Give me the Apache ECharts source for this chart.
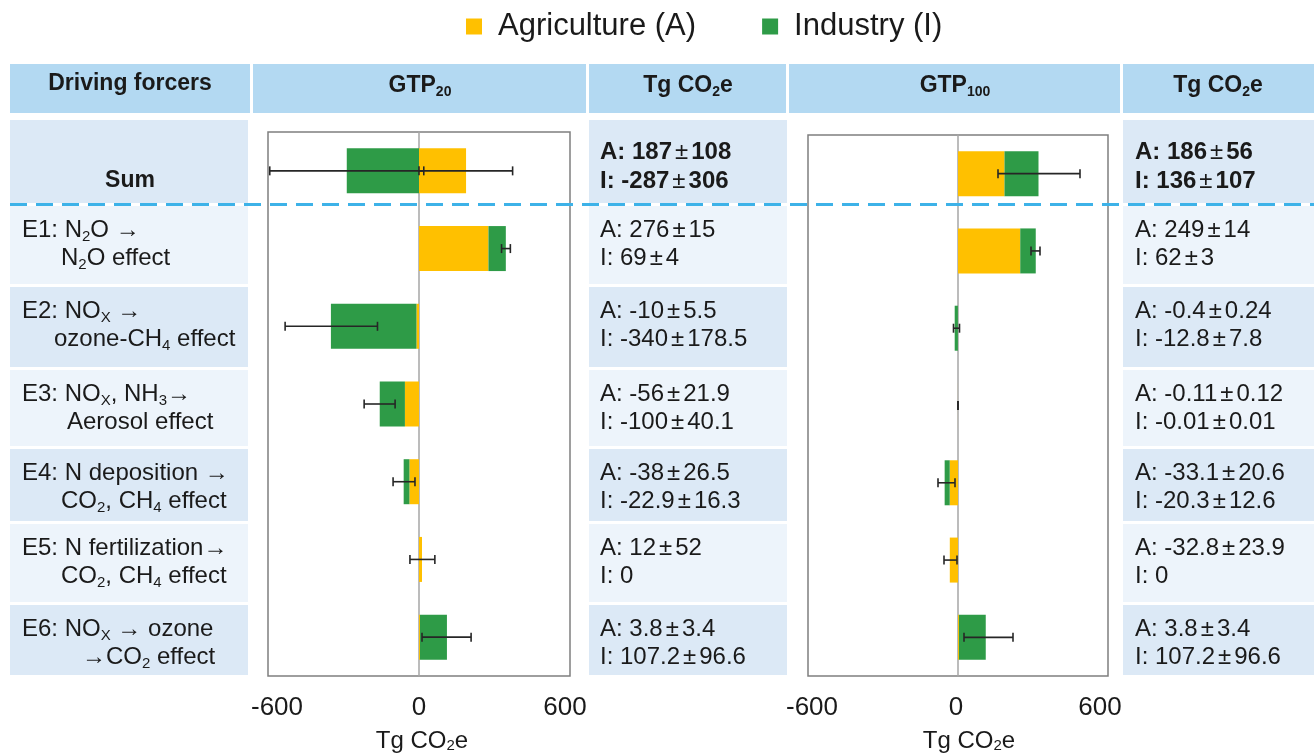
<!DOCTYPE html>
<html>
<head>
<meta charset="utf-8">
<script src="https://cdn.jsdelivr.net/npm/echarts@6/dist/echarts.min.js"></script>
<style>
  html, body { margin: 0; padding: 0; background: #fff; }
  #chart { width: 1314px; height: 754px; }
</style>
</head>
<body>
<div id="chart"></div>
<script>
// Rows of the table, top to bottom
const categories = ['Sum', 'E1', 'E2', 'E3', 'E4', 'E5', 'E6'];

// GTP20, Tg CO2e (null error = no uncertainty given)
const gtp20Agri    = [187, 276, -10, -56, -38, 12, 3.8];
const gtp20AgriErr = [108, 15, 5.5, 21.9, 26.5, 52, 3.4];
const gtp20Ind     = [-287, 69, -340, -100, -22.9, 0, 107.2];
const gtp20IndErr  = [306, 4, 178.5, 40.1, 16.3, null, 96.6];

// GTP100, Tg CO2e
const gtp100Agri    = [186, 249, -0.4, -0.11, -33.1, -32.8, 3.8];
const gtp100AgriErr = [56, 14, 0.24, 0.12, 20.6, 23.9, 3.4];
const gtp100Ind     = [136, 62, -12.8, -0.01, -20.3, 0, 107.2];
const gtp100IndErr  = [107, 3, 7.8, 0.01, 12.6, null, 96.6];

// Error-bar extents on the value axis: [row index, low, high]
const gtp20Whiskers  = [[0, -593, 19], [0, 0, 372], [1, 328, 363], [2, -532, -165], [3, -218, -95], [4, -103, -16], [5, -36, 63], [6, 12, 207]];
const gtp100Whiskers = [[0, 160, 488], [1, 292, 328], [2, -18, 6], [3, -0.24, 0.2], [4, -80, -12], [5, -56, -4], [6, 24, 220]];

// Axis ticks
const axisTicks = [-600, 0, 600];

// Driving-force descriptions ({s|..} = subscript)
const driverLines = [
  ['E1: N{s|2}O →', 'N{s|2}O effect'],
  ['E2: NO{s|X} →', 'ozone-CH{s|4} effect'],
  ['E3: NO{s|X}, NH{s|3}→', 'Aerosol effect'],
  ['E4: N deposition →', 'CO{s|2}, CH{s|4} effect'],
  ['E5: N fertilization→', 'CO{s|2}, CH{s|4} effect'],
  ['E6: NO{s|X} → ozone', '→CO{s|2} effect']
];

const FONT = '"Liberation Sans", Arial, sans-serif';
const INK = '#1a1a1a';
const YELLOW = '#FFC000';
const GREEN = '#2E9B47';
const HEAD_BG = '#b3d9f2';
const ROW_DARK = '#dce9f6';
const ROW_LIGHT = '#edf4fb';

// table geometry
const headY = [64, 113];
const headCols = [[10, 250], [253, 586], [589, 786], [789, 1120], [1123, 1314]];
const textCols = [[10, 248], [589, 787], [1123, 1314]];
const rowTops = [120, 206, 287, 370, 449, 524, 605];
const rowBottoms = [203, 284, 367, 446, 521, 602, 675];
const driverLine2X = [61, 54, 67, 61, 61, 82];

const BODY = 24;

function richSet(size, weight) {
  return {
    s: { fontFamily: FONT, fontSize: Math.round(size * 0.62), fontWeight: weight, fill: INK, verticalAlign: 'bottom' },
    pm: { fontFamily: FONT, fontSize: size, fontWeight: 'normal', fill: INK, padding: [0, 3, 0, 3] }
  };
}

function textEl(x, y, text, size, weight, align) {
  return {
    type: 'text', x: x, y: y, z: 20, silent: true,
    style: {
      text: text, fontFamily: FONT, fontSize: size, fontWeight: weight, fill: INK,
      align: align || 'left', verticalAlign: 'middle', lineHeight: size + 4,
      rich: richSet(size, weight)
    }
  };
}

function rectEl(x1, y1, x2, y2, color) {
  return { type: 'rect', z: 1, silent: true, shape: { x: x1, y: y1, width: x2 - x1, height: y2 - y1 }, style: { fill: color } };
}

function valueText(prefix, v, e) {
  return e === null ? prefix + v : prefix + v + '{pm|±}' + e;
}

const elements = [];
// header band
headCols.forEach(function (c) { elements.push(rectEl(c[0], headY[0], c[1], headY[1], HEAD_BG)); });
const headMidY = 86;
elements.push(textEl(130, headMidY - 2, 'Driving forcers', BODY - 1, 'bold', 'center'));
elements.push(textEl(420, headMidY, 'GTP{s|20}', BODY - 1, 'bold', 'center'));
elements.push(textEl(688, headMidY, 'Tg CO{s|2}e', BODY - 1, 'bold', 'center'));
elements.push(textEl(955, headMidY, 'GTP{s|100}', BODY - 1, 'bold', 'center'));
elements.push(textEl(1218, headMidY, 'Tg CO{s|2}e', BODY - 1, 'bold', 'center'));

// body cells
categories.forEach(function (cat, i) {
  const color = (i % 2 === 0) ? ROW_DARK : ROW_LIGHT;
  textCols.forEach(function (c) { elements.push(rectEl(c[0], rowTops[i], c[1], rowBottoms[i], color)); });
  const isSum = i === 0;
  const w = isSum ? 'bold' : 'normal';
  const y1 = isSum ? rowTops[i] + 32 : rowTops[i] + 24;
  const y2 = isSum ? rowTops[i] + 61 : rowTops[i] + 52;
  if (isSum) {
    elements.push(textEl(130, y2, 'Sum', BODY - 1, 'bold', 'center'));
  } else {
    elements.push(textEl(22, y1, driverLines[i - 1][0], BODY, 'normal'));
    elements.push(textEl(driverLine2X[i - 1], y2, driverLines[i - 1][1], BODY, 'normal'));
  }
  elements.push(textEl(600, y1, valueText('A: ', gtp20Agri[i], gtp20AgriErr[i]), BODY, w));
  elements.push(textEl(600, y2, valueText('I: ', gtp20Ind[i], gtp20IndErr[i]), BODY, w));
  elements.push(textEl(1135, y1, valueText('A: ', gtp100Agri[i], gtp100AgriErr[i]), BODY, w));
  elements.push(textEl(1135, y2, valueText('I: ', gtp100Ind[i], gtp100IndErr[i]), BODY, w));
});

// dashed separator under the Sum row
elements.push({
  type: 'line', z: 100, silent: true,
  shape: { x1: 10, y1: 204.5, x2: 1314, y2: 204.5 },
  style: { stroke: '#3db2e8', lineWidth: 3, lineDash: [17, 9] }
});

// error bar with end caps
function whisker(params, api) {
  const row = api.value(0);
  const p1 = api.coord([api.value(1), row]);
  const p2 = api.coord([api.value(2), row]);
  const c = 4.5;
  const st = { stroke: '#262626', lineWidth: 1.6 };
  return {
    type: 'group',
    children: [
      { type: 'line', shape: { x1: p1[0], y1: p1[1], x2: p2[0], y2: p2[1] }, style: st },
      { type: 'line', shape: { x1: p1[0], y1: p1[1] - c, x2: p1[0], y2: p1[1] + c }, style: st },
      { type: 'line', shape: { x1: p2[0], y1: p2[1] - c, x2: p2[0], y2: p2[1] + c }, style: st }
    ]
  };
}

// per-axis nudges of the tick labels and the axis title (px)
const labelNudge = [
  { neg: 18, zero: 0, pos: -10, name: 6 },
  { neg: 8, zero: -4, pos: -16, name: 22 }
];

function makeXAxis(i) {
  const nd = labelNudge[i];
  const lab = { fontFamily: FONT, fontSize: 26, color: INK };
  return {
    gridIndex: i, type: 'value', min: axisTicks[0], max: axisTicks[axisTicks.length - 1],
    interval: axisTicks[1] - axisTicks[0],
    axisLine: { show: false }, axisTick: { show: false }, splitLine: { show: false },
    axisLabel: {
      margin: 19,
      formatter: function (v) { return v < 0 ? '{neg|' + v + '}' : (v > 0 ? '{pos|' + v + '}' : '{zero|' + v + '}'); },
      rich: {
        neg: Object.assign({ padding: nd.neg >= 0 ? [0, 0, 0, nd.neg] : [0, -nd.neg, 0, 0] }, lab),
        zero: Object.assign({ padding: nd.zero >= 0 ? [0, 0, 0, nd.zero] : [0, -nd.zero, 0, 0] }, lab),
        pos: Object.assign({ padding: nd.pos >= 0 ? [0, 0, 0, nd.pos] : [0, -nd.pos, 0, 0] }, lab)
      }
    },
    name: '{n|Tg CO}{s|2}{n|e}', nameLocation: 'middle', nameGap: 53,
    nameTextStyle: {
      padding: [0, 0, 0, nd.name],
      rich: {
        n: { fontFamily: FONT, fontSize: 24, color: INK },
        s: { fontFamily: FONT, fontSize: 15, color: INK, verticalAlign: 'bottom' }
      }
    }
  };
}

function makeYAxis(i) {
  return {
    gridIndex: i, type: 'category', data: categories, inverse: true,
    axisLabel: { show: false }, axisTick: { show: false },
    axisLine: { show: true, onZero: true, lineStyle: { color: '#a6a6a6', width: 1.5 } }
  };
}

const gridBase = {
  show: true, backgroundColor: '#fff', borderColor: '#7f7f7f', borderWidth: 1.5,
  containLabel: false, outerBoundsMode: 'none'
};

const option = {
  animation: false,
  backgroundColor: '#fff',
  legend: {
    data: ['Agriculture (A)', 'Industry (I)'],
    left: 461, top: 6, padding: 5, itemWidth: 16, itemHeight: 16, itemGap: 66, icon: 'rect',
    textStyle: { fontFamily: FONT, fontSize: 31, color: INK, padding: [0, 0, 0, 11] }
  },
  grid: [
    Object.assign({ left: 268, top: 132, width: 302, height: 544 }, gridBase),
    Object.assign({ left: 808, top: 135, width: 300, height: 541 }, gridBase)
  ],
  xAxis: [makeXAxis(0), makeXAxis(1)],
  yAxis: [makeYAxis(0), makeYAxis(1)],
  series: [
    { type: 'bar', name: 'Agriculture (A)', xAxisIndex: 0, yAxisIndex: 0, stack: 'g20', barWidth: 45, data: gtp20Agri, itemStyle: { color: YELLOW } },
    { type: 'bar', name: 'Industry (I)', xAxisIndex: 0, yAxisIndex: 0, stack: 'g20', barWidth: 45, data: gtp20Ind, itemStyle: { color: GREEN } },
    { type: 'bar', name: 'Agriculture (A)', xAxisIndex: 1, yAxisIndex: 1, stack: 'g100', barWidth: 45, data: gtp100Agri, itemStyle: { color: YELLOW } },
    { type: 'bar', name: 'Industry (I)', xAxisIndex: 1, yAxisIndex: 1, stack: 'g100', barWidth: 45, data: gtp100Ind, itemStyle: { color: GREEN } },
    { type: 'custom', xAxisIndex: 0, yAxisIndex: 0, data: gtp20Whiskers, renderItem: whisker, encode: { x: [1, 2], y: 0 }, z: 10, silent: true },
    { type: 'custom', xAxisIndex: 1, yAxisIndex: 1, data: gtp100Whiskers, renderItem: whisker, encode: { x: [1, 2], y: 0 }, z: 10, silent: true }
  ],
  graphic: { elements: elements }
};

const chart = echarts.init(document.getElementById('chart'), null, { renderer: 'canvas' });
chart.setOption(option);
</script>
</body>
</html>
